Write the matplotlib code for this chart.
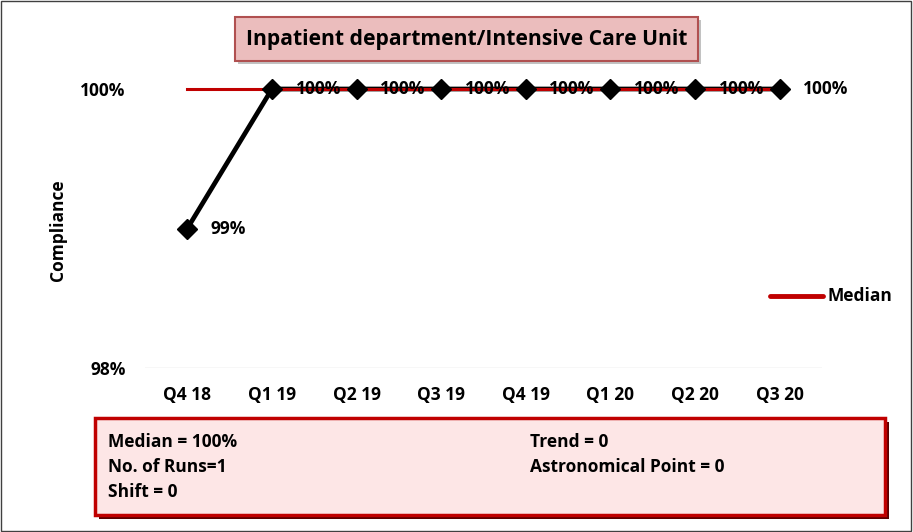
import matplotlib.pyplot as plt
from matplotlib.patches import Rectangle
from matplotlib.lines import Line2D

quarters = ["Q4 18", "Q1 19", "Q2 19", "Q3 19", "Q4 19", "Q1 20", "Q2 20", "Q3 20"]
compliance = [0.99, 1.00, 1.00, 1.00, 1.00, 1.00, 1.00, 1.00]
median = [1.00] * len(quarters)
y_ticks = [0.98, 1.00]
title = "Inpatient department/Intensive Care Unit"
stats_left = ["Median = 100%", "No. of Runs=1", "Shift = 0"]
stats_right = ["Trend = 0", "Astronomical Point = 0"]

plt.rcParams["font.family"] = ["Open Sans", "DejaVu Sans"]
plt.rcParams["font.weight"] = "bold"
FS = 12.5

W, H = 913, 532
fig = plt.figure(figsize=(W / 100, H / 100), dpi=100)

# outer frame of the chart
fig.patches.append(Rectangle((0.001, 0.002), 0.997, 0.996, transform=fig.transFigure,
                             fill=False, edgecolor="#404040", linewidth=1))

ax = fig.add_axes([145 / W, 1 - 368 / H, 677 / W, (368 - 89) / H])
x = list(range(len(quarters)))
ax.plot(x, compliance, color="black", linewidth=3.4, zorder=2, clip_on=False)
ax.plot(x, median, color="#C00000", linewidth=2.2, zorder=3, clip_on=False)
ax.plot(x, compliance, color="black", linestyle="none", marker="D", markersize=10,
        zorder=4, clip_on=False)
for xi, v in zip(x, compliance):
    ax.annotate(f"{v:.0%}", (xi, v), xytext=(17, 0), textcoords="offset points",
                va="center", ha="left", fontsize=FS, fontweight="bold", zorder=5)

ax.set_xlim(-0.5, len(quarters) - 0.5)
ax.set_ylim(0.98, 1.00)
ax.set_yticks(y_ticks)
ax.set_yticklabels([f"{t:.0%}" for t in y_ticks], fontsize=FS, fontweight="bold")
ax.set_xticks(x)
ax.set_xticklabels(quarters, fontsize=FS, fontweight="bold")
ax.tick_params(axis="y", length=0, pad=14)
ax.tick_params(axis="x", length=0, pad=13)
ax.axhline(y_ticks[0], color="#D9D9D9", linewidth=1, zorder=1)
for s in ax.spines.values():
    s.set_visible(False)

fig.text(58 / W, 1 - 230 / H, "Compliance", rotation=90, ha="center", va="center",
         fontsize=FS, fontweight="bold")

# legend
fig.add_artist(Line2D([770 / W, 823 / W], [1 - 296 / H] * 2, color="#C00000",
                      linewidth=3.5, solid_capstyle="round", transform=fig.transFigure))
fig.text(827 / W, 1 - 296 / H, "Median", ha="left", va="center", fontsize=FS,
         fontweight="bold")

# title box
fig.patches.append(Rectangle((238 / W, 1 - 64 / H), 463 / W, 44 / H, transform=fig.transFigure,
                             facecolor="#9A9A9A", edgecolor="none", alpha=0.6))
fig.patches.append(Rectangle((235 / W, 1 - 61 / H), 463 / W, 44 / H, transform=fig.transFigure,
                             facecolor="#EBBDBD", edgecolor="#B05050", linewidth=1.5))
fig.text(467 / W, 1 - 40 / H, title, ha="center", va="center", fontsize=15.2,
         fontweight="bold")

# statistics box
fig.patches.append(Rectangle((99 / W, 1 - 519 / H), 790 / W, 97 / H, transform=fig.transFigure,
                             facecolor="#5A0000", edgecolor="none"))
fig.patches.append(Rectangle((95 / W, 1 - 515 / H), 790 / W, 97 / H, transform=fig.transFigure,
                             facecolor="#FDE6E6", edgecolor="#C00000", linewidth=2.5))
for i, s in enumerate(stats_left):
    fig.text(108 / W, 1 - (442 + 25 * i) / H, s, ha="left", va="center", fontsize=FS,
             fontweight="bold")
for i, s in enumerate(stats_right):
    fig.text(530 / W, 1 - (442 + 25 * i) / H, s, ha="left", va="center", fontsize=FS,
             fontweight="bold")

fig.savefig("out.png", dpi=100)
